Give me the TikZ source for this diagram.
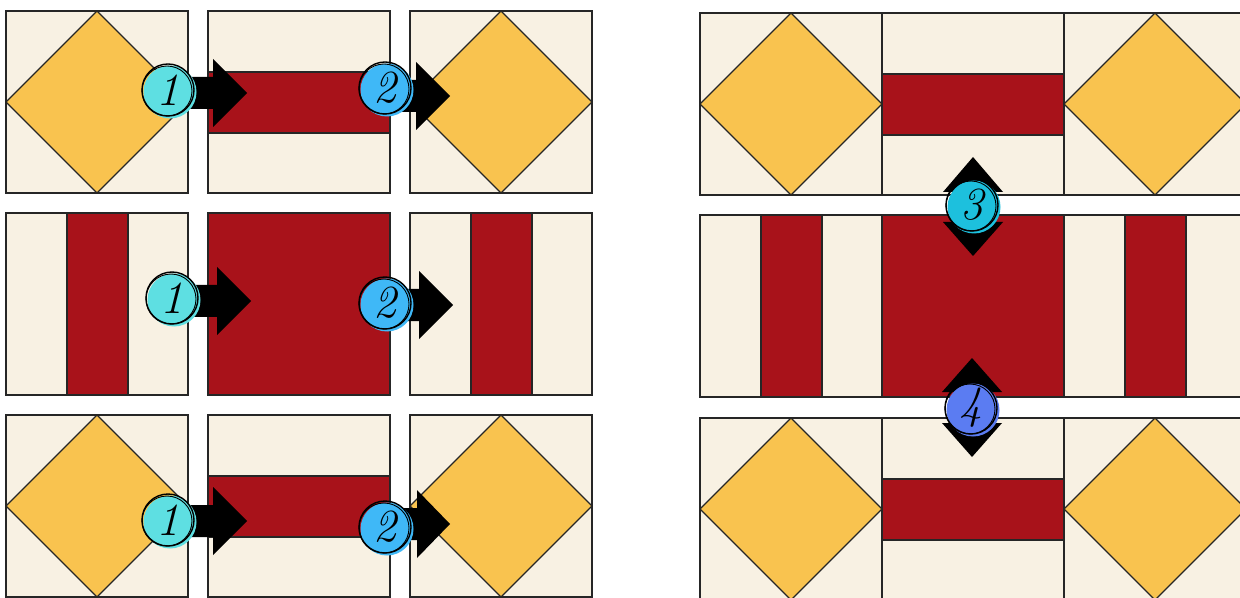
\documentclass[tikz,border=0pt]{standalone}
\usepackage{tikz}
\definecolor{cream}{HTML}{F8F1E3}
\definecolor{quiltred}{HTML}{A8121A}
\definecolor{gold}{HTML}{F9C34F}
\definecolor{cone}{HTML}{5EDFE2}
\definecolor{ctwo}{HTML}{3FB8F7}
\definecolor{cthree}{HTML}{1DC0DD}
\definecolor{cfour}{HTML}{5B7CF2}
\tikzset{
  edge/.style={draw=black!85, line width=0.6pt},
  badge/.style={circle, minimum size=26.5pt, inner sep=0pt},
  ring/.style={draw=black, line width=0.7pt},
  bigarrow/.style={fill=black},
  digit/.style={font=\fontsize{23}{23}\selectfont\itshape},
}
\newcommand\qdiamond[2]{%
  \fill[cream] (#1,#2) rectangle ++(182,182);
  \filldraw[fill=gold, edge] (#1+91,#2) -- (#1+182,#2+91) -- (#1+91,#2+182) -- (#1,#2+91) -- cycle;
  \draw[edge] (#1,#2) rectangle ++(182,182);}
\newcommand\qhbar[2]{%
  \fill[cream] (#1,#2) rectangle ++(182,182);
  \filldraw[fill=quiltred, edge] (#1,#2+61) rectangle (#1+182,#2+122);
  \draw[edge] (#1,#2) rectangle ++(182,182);}
\newcommand\qvbar[2]{%
  \fill[cream] (#1,#2) rectangle ++(182,182);
  \filldraw[fill=quiltred, edge] (#1+61,#2) rectangle (#1+122,#2+182);
  \draw[edge] (#1,#2) rectangle ++(182,182);}
\newcommand\qfull[2]{%
  \filldraw[fill=quiltred, edge] (#1,#2) rectangle ++(182,182);}
% right arrow: x start, y centre, head base x, tip x
\newcommand\qright[4]{%
  \fill[bigarrow] (#1,#2-16) -- (#3,#2-16) -- (#3,#2-34) -- (#4,#2) -- (#3,#2+34) -- (#3,#2+16) -- (#1,#2+16) -- cycle;}
% vertical double arrow: x, up tip, up base, down base, down tip
\newcommand\qupdown[5]{%
  \fill[bigarrow] (#1-30,#3) -- (#1,#2) -- (#1+30,#3) -- (#1+12,#3) -- (#1+12,#4) -- (#1+30,#4) -- (#1,#5) -- (#1-30,#4) -- (#1-12,#4) -- (#1-12,#3) -- cycle;}
% badge: name, x, y, colour, text
\newcommand\qbadge[5]{%
  \node[badge, fill=#4] (#1) at (#2+2,#3+2) {};
  \draw[ring] (#2,#3) circle (13pt);
  \draw[ring, line width=0.45pt] (#2-1,#3+1) circle (12.5pt);
  \node[digit] (#1t) at (#2,#3) {#5};}
\begin{document}
\begin{tikzpicture}[x=0.5pt,y=-0.5pt]
\useasboundingbox (0,0) rectangle (1240,598);
\fill[white] (0,0) rectangle (1240,598);
\begin{scope}
\clip (0,0) rectangle (1240,598);
% left grid
\qdiamond{6}{11} \qhbar{208}{11} \qdiamond{410}{11}
\qvbar{6}{213} \qfull{208}{213} \qvbar{410}{213}
\qdiamond{6}{415} \qhbar{208}{415} \qdiamond{410}{415}
% right grid
\qdiamond{700}{13} \qhbar{882}{13} \qdiamond{1064}{13}
\qvbar{700}{215} \qfull{882}{215} \qvbar{1064}{215}
\qdiamond{700}{418} \qhbar{882}{418} \qdiamond{1064}{418}
% arrows
\qright{168}{93}{213}{247}
\qright{385}{96}{416}{450}
\qright{172}{301}{217}{251}
\qright{385}{305}{419}{453}
\qright{168}{521}{213}{247}
\qright{385}{524}{417}{450}
\qupdown{973}{157}{192}{222}{256}
\qupdown{972}{358}{392}{423}{457}
% badges
\qbadge{ba}{168}{90}{cone}{1}
\qbadge{bb}{385}{88}{ctwo}{2}
\qbadge{bc}{172}{298}{cone}{1}
\qbadge{bd}{385}{303}{ctwo}{2}
\qbadge{be}{168}{520}{cone}{1}
\qbadge{bf}{385}{527}{ctwo}{2}
\qbadge{bg}{972}{205}{cthree}{3}
\qbadge{bh}{971}{408}{cfour}{4}
\end{scope}
\end{tikzpicture}
\end{document}
